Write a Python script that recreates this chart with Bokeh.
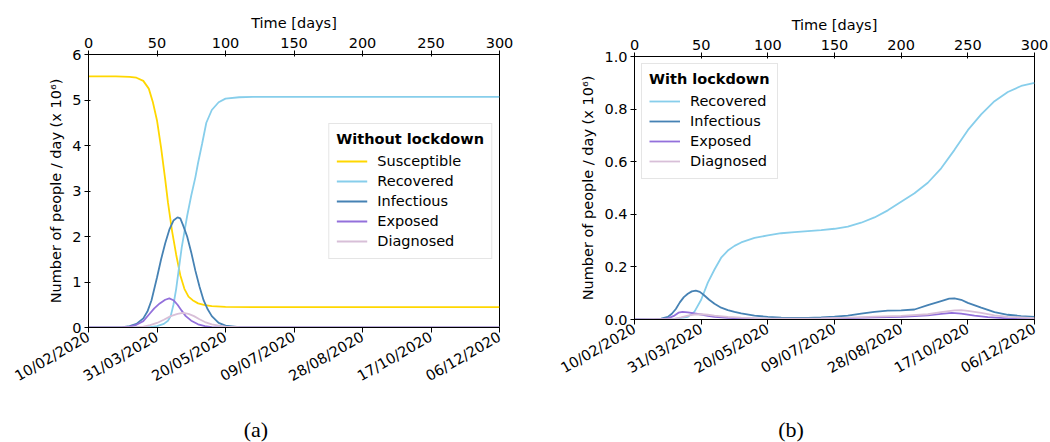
import math
from bokeh.plotting import figure
from bokeh.models import (LinearAxis, FixedTicker, Legend, LegendItem, Div,
                          Range1d, NumeralTickFormatter)
from bokeh.layouts import row, column
from bokeh.embed import file_html
from bokeh.resources import INLINE

# ---------------- data ----------------
DAY_TICKS = [0, 50, 100, 150, 200, 250, 300]
DATE_LABELS = ["10/02/2020", "31/03/2020", "20/05/2020", "09/07/2020",
               "28/08/2020", "17/10/2020", "06/12/2020"]

SERIES_NAMES = ["Susceptible", "Recovered", "Infectious", "Exposed", "Diagnosed"]
SERIES_COLORS = ["#FFD700", "#87CEEB", "#4682B4", "#9370DB", "#D8BFD8"]

# Panel (a): without lockdown (millions)
a_sus_days = [0, 20, 30, 35, 40, 44, 47, 50, 53, 56, 58, 61, 64, 67, 70, 73, 76, 80, 85, 90, 100, 120, 300]
a_sus_vals = [5.52, 5.52, 5.51, 5.49, 5.42, 5.25, 4.95, 4.55, 3.95, 3.25, 2.75, 2.12, 1.6, 1.15, 0.85, 0.68,
              0.6, 0.53, 0.49, 0.47, 0.455, 0.45, 0.45]
a_rec_days = [0, 40, 45, 50, 55, 58, 60, 62, 64, 66, 68, 70, 72, 75, 78, 80, 83, 86, 90, 95, 100, 110, 120, 300]
a_rec_vals = [0, 0.005, 0.01, 0.03, 0.08, 0.15, 0.25, 0.5, 0.85, 1.3, 1.75, 2.1, 2.45, 2.9, 3.3, 3.62, 4.05,
              4.5, 4.78, 4.95, 5.03, 5.06, 5.07, 5.07]
a_inf_days = [0, 25, 30, 35, 40, 43, 46, 50, 53, 56, 59, 62, 65, 67, 69, 72, 75, 78, 81, 84, 87, 90, 95, 100, 110, 120, 300]
a_inf_vals = [0, 0.01, 0.03, 0.08, 0.2, 0.35, 0.6, 1.1, 1.5, 1.85, 2.15, 2.35, 2.42, 2.4, 2.25, 2.0, 1.65,
              1.25, 0.9, 0.6, 0.4, 0.25, 0.1, 0.04, 0.01, 0.0, 0.0]
a_exp_days = [0, 25, 30, 35, 40, 44, 48, 52, 56, 59, 62, 65, 68, 71, 75, 80, 85, 90, 100, 300]
a_exp_vals = [0, 0.01, 0.02, 0.06, 0.14, 0.28, 0.42, 0.53, 0.61, 0.64, 0.6, 0.5, 0.37, 0.25, 0.15, 0.07,
              0.03, 0.01, 0.0, 0.0]
a_dia_days = [0, 35, 40, 45, 50, 55, 60, 65, 69, 73, 77, 81, 85, 90, 95, 100, 110, 120, 300]
a_dia_vals = [0, 0.01, 0.02, 0.05, 0.1, 0.17, 0.25, 0.3, 0.32, 0.3, 0.25, 0.18, 0.12, 0.07, 0.04, 0.02,
              0.005, 0.0, 0.0]

# Panel (b): with lockdown (millions)
b_rec_days = [0, 30, 40, 45, 50, 55, 60, 65, 70, 75, 80, 90, 100, 110, 120, 130, 140, 150, 160, 170, 180,
              190, 200, 210, 220, 230, 240, 250, 260, 270, 280, 290, 300]
b_rec_vals = [0, 0.002, 0.01, 0.03, 0.075, 0.14, 0.19, 0.235, 0.262, 0.28, 0.293, 0.31, 0.32, 0.328, 0.332,
              0.336, 0.34, 0.345, 0.353, 0.368, 0.388, 0.415, 0.448, 0.48, 0.52, 0.575, 0.645, 0.72, 0.78,
              0.83, 0.865, 0.888, 0.9]
b_inf_days = [0, 15, 20, 25, 28, 31, 34, 37, 40, 43, 46, 49, 52, 56, 60, 65, 70, 75, 80, 90, 100, 110, 120,
              130, 140, 150, 160, 170, 180, 190, 200, 210, 220, 230, 236, 240, 245, 250, 260, 270, 280, 290, 300]
b_inf_vals = [0, 0.001, 0.003, 0.01, 0.022, 0.04, 0.065, 0.085, 0.098, 0.107, 0.11, 0.105, 0.093, 0.075,
              0.06, 0.045, 0.036, 0.029, 0.023, 0.015, 0.01, 0.007, 0.006, 0.006, 0.008, 0.011, 0.015,
              0.022, 0.029, 0.034, 0.035, 0.038, 0.055, 0.07, 0.079, 0.08, 0.075, 0.063, 0.045, 0.028,
              0.018, 0.013, 0.01]
b_exp_days = [0, 20, 25, 30, 33, 36, 40, 45, 50, 55, 60, 70, 80, 100, 120, 140, 160, 180, 200, 220, 230,
              238, 245, 255, 265, 280, 300]
b_exp_vals = [0, 0.001, 0.004, 0.015, 0.026, 0.029, 0.027, 0.023, 0.019, 0.014, 0.01, 0.006, 0.004, 0.002,
              0.002, 0.003, 0.005, 0.008, 0.01, 0.016, 0.021, 0.025, 0.022, 0.015, 0.009, 0.004, 0.002]
b_dia_days = [0, 30, 35, 40, 45, 50, 55, 60, 70, 80, 90, 100, 120, 140, 160, 180, 200, 220, 230, 240, 245,
              250, 260, 270, 280, 300]
b_dia_vals = [0, 0.002, 0.008, 0.015, 0.019, 0.02, 0.018, 0.015, 0.01, 0.007, 0.005, 0.004, 0.003, 0.004,
              0.007, 0.011, 0.014, 0.02, 0.028, 0.035, 0.036, 0.033, 0.025, 0.016, 0.01, 0.005]

FONT = "DejaVu Sans"
FS = "14.5px"


def make_panel(series, ymax, yticks, yfmt, legend_title, width, height, borders, legend_loc):
    left, right, top, bottom = borders
    p = figure(width=width, height=height, output_backend="svg", toolbar_location=None,
               x_range=Range1d(0, 300), y_range=Range1d(0, ymax),
               x_axis_location="above",
               min_border_left=left, min_border_right=right,
               min_border_top=top, min_border_bottom=bottom)
    p.grid.visible = False
    p.outline_line_color = "black"
    p.outline_line_width = 1
    p.background_fill_color = "white"
    p.border_fill_color = "white"

    # top axis (days)
    xa = p.xaxis[0]
    xa.ticker = FixedTicker(ticks=DAY_TICKS)
    xa.axis_label = "Time [days]"

    # bottom axis (dates)
    bottom_axis = LinearAxis(ticker=FixedTicker(ticks=DAY_TICKS),
                             major_label_overrides={d: s for d, s in zip(DAY_TICKS, DATE_LABELS)},
                             major_label_orientation=math.pi / 6)
    p.add_layout(bottom_axis, "below")

    ya = p.yaxis[0]
    ya.ticker = FixedTicker(ticks=yticks)
    ya.formatter = NumeralTickFormatter(format=yfmt)
    ya.axis_label = "Number of people / day (x 10\u2076)"

    for ax in [xa, bottom_axis, ya]:
        ax.axis_line_color = "black"
        ax.major_tick_line_color = "black"
        ax.minor_tick_line_color = None
        ax.major_tick_out = 4
        ax.major_tick_in = 2
        ax.major_label_text_font = FONT
        ax.major_label_text_font_size = FS
        ax.major_label_text_color = "black"
        ax.axis_label_text_font = FONT
        ax.axis_label_text_font_size = FS
        ax.axis_label_text_font_style = "normal"
        ax.axis_label_text_color = "black"
        ax.major_label_standoff = 3
        ax.axis_label_standoff = 5
    xa.axis_label_standoff = 4
    bottom_axis.major_tick_in = 0
    bottom_axis.major_tick_out = 5

    items = []
    for name, days, vals in series:
        color = SERIES_COLORS[SERIES_NAMES.index(name)]
        r = p.line(days, vals, line_color=color, line_width=1.8)
        items.append(LegendItem(label=name, renderers=[r]))

    leg = Legend(items=items, location=legend_loc, title=legend_title,
                 title_text_font=FONT, title_text_font_size=FS, title_text_font_style="bold",
                 title_text_color="black",
                 label_text_font=FONT, label_text_font_size=FS, label_text_color="black",
                 border_line_color="#cccccc", border_line_width=1,
                 background_fill_color="white", background_fill_alpha=0.8,
                 padding=7, spacing=0, margin=7, label_height=20, glyph_height=20,
                 glyph_width=31, label_standoff=10, title_standoff=4)
    p.add_layout(leg)
    return p


def caption(text, width):
    html = ('<div style="width:%dpx; text-align:center; font-family:\'Liberation Serif\', serif; '
            'font-size:22px; line-height:20px; color:black;">%s</div>' % (width, text))
    return Div(text=html, width=width, height=20, margin=0)


pa = make_panel([("Susceptible", a_sus_days, a_sus_vals),
                 ("Recovered", a_rec_days, a_rec_vals),
                 ("Infectious", a_inf_days, a_inf_vals),
                 ("Exposed", a_exp_days, a_exp_vals),
                 ("Diagnosed", a_dia_days, a_dia_vals)],
                6, [0, 1, 2, 3, 4, 5, 6], "0", "Without lockdown",
                530, 420, (88, 31, 54, 93), "center_right")

pb = make_panel([("Recovered", b_rec_days, b_rec_vals),
                 ("Infectious", b_inf_days, b_inf_vals),
                 ("Exposed", b_exp_days, b_exp_vals),
                 ("Diagnosed", b_dia_days, b_dia_vals)],
                1.0, [0, 0.2, 0.4, 0.6, 0.8, 1.0], "0.0", "With lockdown",
                520, 420, (104, 16, 56, 101), "top_left")

layout = row(column(pa, caption("(a)", 512), spacing=0),
             column(pb, caption("(b)", 522), spacing=0), spacing=0)
open("out.html", "w").write(file_html(layout, INLINE))
